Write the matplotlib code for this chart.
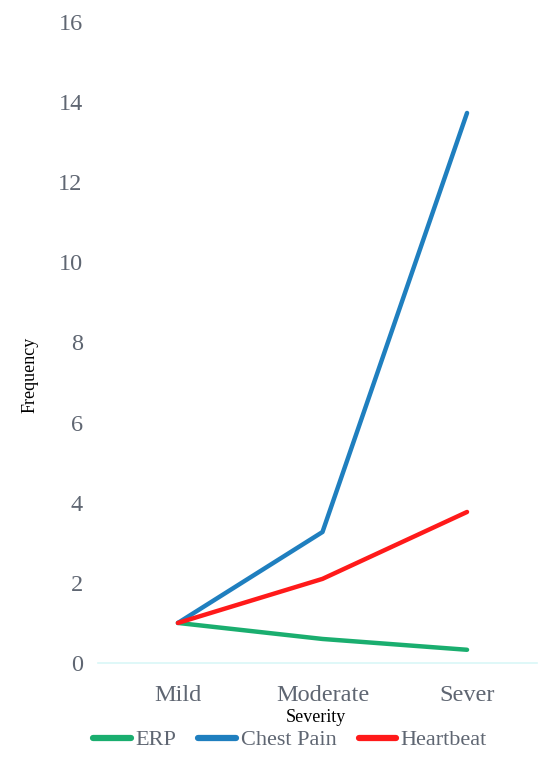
import matplotlib
matplotlib.use("Agg")
import matplotlib.pyplot as plt
from matplotlib.lines import Line2D

categories = ["Mild", "Moderate", "Sever"]
erp = [1.0, 0.6, 0.33]
chest_pain = [1.0, 3.27, 13.73]
heartbeat = [1.0, 2.1, 3.77]
yticks = [0, 2, 4, 6, 8, 10, 12, 14, 16]

plt.rcParams['font.family'] = ['Liberation Serif', 'DejaVu Serif']

fig = plt.figure(figsize=(5.57, 7.67), dpi=100)
ax = fig.add_axes([98/557, (767-663)/767, (537-98)/557, (663-22)/767])

x = range(len(categories))
c_erp, c_cp, c_hb = "#1aae6f", "#1f7fbf", "#ff1a1a"
ax.plot(x, erp, color=c_erp, lw=3.2, solid_capstyle="round", solid_joinstyle="round", label="ERP")
ax.plot(x, chest_pain, color=c_cp, lw=3.2, solid_capstyle="round", solid_joinstyle="round", label="Chest Pain")
ax.plot(x, heartbeat, color=c_hb, lw=3.2, solid_capstyle="round", solid_joinstyle="round", label="Heartbeat")

ax.set_xlim(-0.553, 2.484)
ax.set_ylim(0, 16)
ax.set_yticks(yticks)
ax.set_xticks(list(x))
ax.set_xticklabels(categories)
for s in ["top", "right", "left"]:
    ax.spines[s].set_visible(False)
ax.spines["bottom"].set_color("#d9f7f7")
ax.spines["bottom"].set_linewidth(1.2)
ax.tick_params(axis="both", length=0, labelsize=17.5, labelcolor="#5f6672")
ax.tick_params(axis="y", pad=11)
ax.tick_params(axis="x", pad=16)

fig.text(30/557, 1 - 375/767, "Frequency", rotation=90, ha="center", va="center",
         fontsize=13, color="black")
fig.text(316/557, 1 - 718/767, "Severity", ha="center", va="center",
         fontsize=13, color="black")

handles = [Line2D([], [], color=c, lw=4.5, solid_capstyle="round") for c in (c_erp, c_cp, c_hb)]
leg = fig.legend(handles, ["ERP", "Chest Pain", "Heartbeat"], loc="center",
                 bbox_to_anchor=(290/557, 1 - 740/767), ncol=3, frameon=False,
                 fontsize=16, handlelength=1.7, handletextpad=0.2, columnspacing=1.0,
                 labelcolor="#5f6672")

fig.savefig("out.png", dpi=100)
